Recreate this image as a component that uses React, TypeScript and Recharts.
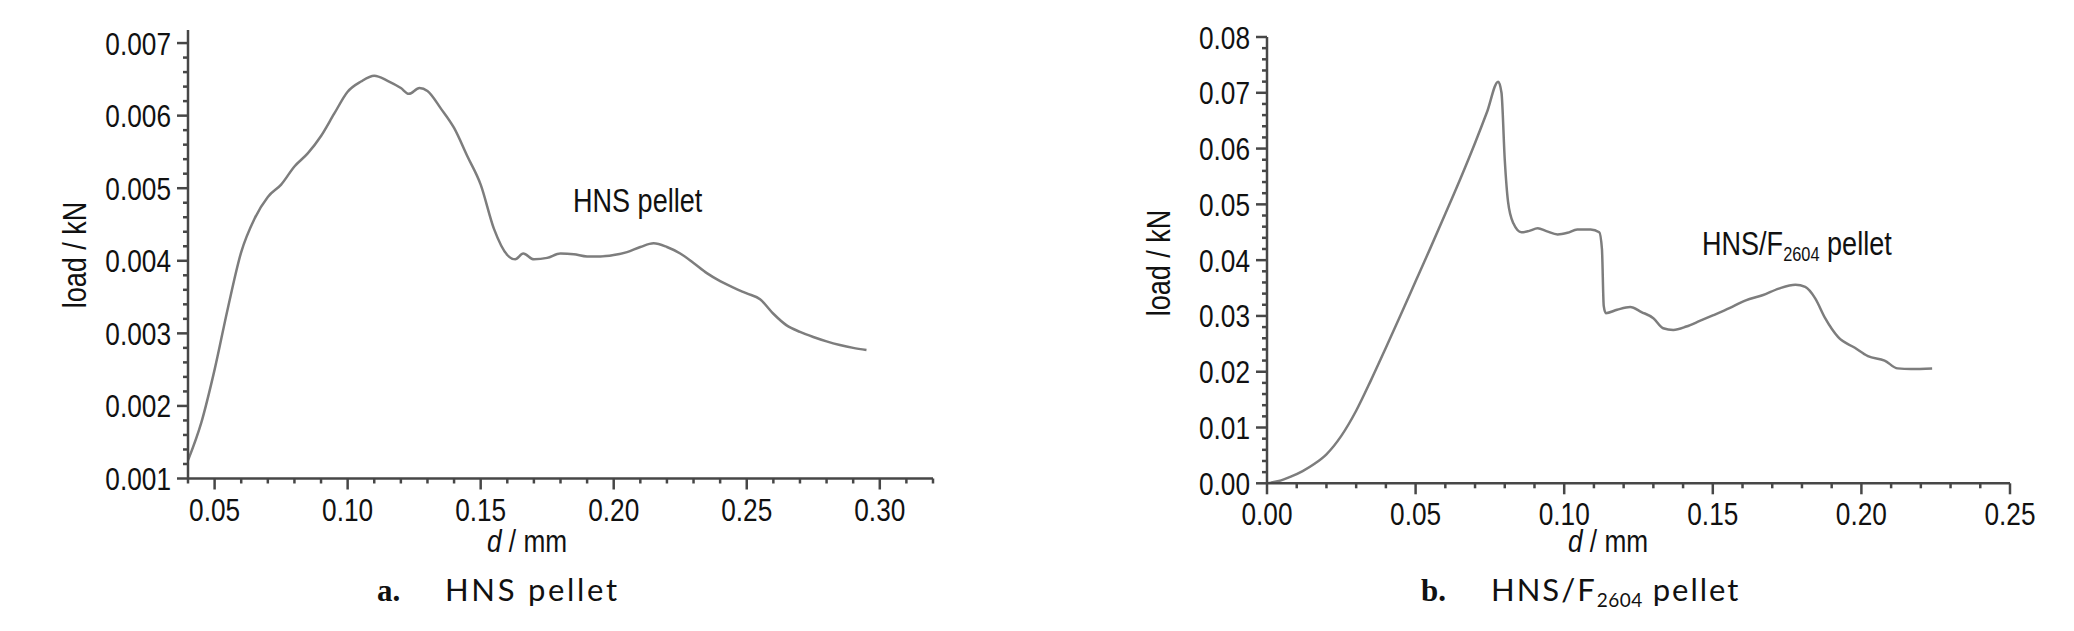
import React from 'react';
import { LineChart, Line, XAxis, YAxis } from 'recharts';

// panel a: HNS pellet, displacement (mm) vs load (kN)
const hnsD = [
  0.040, 0.045, 0.050, 0.055, 0.060, 0.065, 0.070, 0.075, 0.080, 0.085,
  0.090, 0.095, 0.100, 0.105, 0.110, 0.115, 0.120, 0.123, 0.127, 0.130,
  0.135, 0.140, 0.145, 0.150, 0.155, 0.160, 0.163, 0.166, 0.170, 0.175,
  0.180, 0.185, 0.190, 0.195, 0.200, 0.205, 0.210, 0.215, 0.220, 0.225,
  0.230, 0.235, 0.240, 0.245, 0.250, 0.255, 0.260, 0.265, 0.270, 0.275,
  0.280, 0.285, 0.290, 0.295,
];
const hnsLoad = [
  0.00125, 0.00177, 0.0025, 0.00335, 0.00412, 0.00458, 0.00488, 0.00505, 0.0053, 0.00548,
  0.00572, 0.00603, 0.00633, 0.00647, 0.00655, 0.00648, 0.00638, 0.0063, 0.00638, 0.00634,
  0.0061, 0.00583, 0.00544, 0.00505, 0.00444, 0.00408, 0.00402, 0.0041, 0.00402, 0.00404,
  0.0041, 0.00409, 0.00406, 0.00406, 0.00408, 0.00412, 0.00419, 0.00424, 0.00419, 0.0041,
  0.00397, 0.00383, 0.00372, 0.00363, 0.00355, 0.00347, 0.00327, 0.00311, 0.00302, 0.00295,
  0.00289, 0.00284, 0.0028, 0.00277,
];

// panel b: HNS/F2604 pellet
const f2604D = [
  0.000, 0.004, 0.008, 0.012, 0.016, 0.020, 0.025, 0.030, 0.035, 0.040,
  0.045, 0.050, 0.055, 0.060, 0.065, 0.070, 0.074, 0.0778, 0.0789, 0.0800,
  0.0811, 0.0829, 0.0856, 0.0880, 0.0911, 0.0940, 0.0978, 0.1011, 0.1044, 0.1089,
  0.1118, 0.1127, 0.1133, 0.1140, 0.1178, 0.1222, 0.1260, 0.1300, 0.1333, 0.1367,
  0.1411, 0.1456, 0.1500, 0.1556, 0.1611, 0.1667, 0.1722, 0.1778, 0.1811, 0.1844,
  0.1878, 0.1922, 0.1978, 0.2022, 0.2078, 0.2122, 0.2167, 0.2238,
];
const f2604Load = [
  0.0, 0.0004, 0.0012, 0.0022, 0.0035, 0.0052, 0.0085, 0.013, 0.0185, 0.0243,
  0.0302, 0.0362, 0.0422, 0.0483, 0.0545, 0.061, 0.0665, 0.072, 0.07, 0.058,
  0.0505, 0.0466, 0.045, 0.0452, 0.0457, 0.0452, 0.0446, 0.0449, 0.0455, 0.0455,
  0.045, 0.042, 0.0318, 0.0305, 0.0311, 0.0316, 0.0307, 0.0296, 0.0278, 0.0275,
  0.0281, 0.0291, 0.0301, 0.0314, 0.0328, 0.0337, 0.0349, 0.0356, 0.0352, 0.0332,
  0.0296, 0.0262, 0.0243, 0.0228, 0.022, 0.0206, 0.0205, 0.0206,
];

const hnsXTicks = [0.05, 0.10, 0.15, 0.20, 0.25, 0.30];
const hnsYTicks = [0.001, 0.002, 0.003, 0.004, 0.005, 0.006, 0.007];
const f2604XTicks = [0.00, 0.05, 0.10, 0.15, 0.20, 0.25];
const f2604YTicks = [0.00, 0.01, 0.02, 0.03, 0.04, 0.05, 0.06, 0.07, 0.08];

// no Arial Narrow here, so squeeze Liberation Sans sideways instead
const SANS = "'Liberation Sans', Arial, sans-serif";
const SQUEEZE = 0.82;
const AXIS = '#474747';
const CURVE = '#7d7d7d';
const INK = '#111';

const NText = ({ x, y, size = 32, anchor = 'start', rotate = false, children }: any) => (
  <text
    transform={`translate(${x} ${y})${rotate ? ' rotate(-90)' : ''} scale(${SQUEEZE} 1)`}
    textAnchor={anchor}
    fontFamily={SANS}
    fontSize={size}
    fill={INK}
  >
    {children}
  </text>
);

// every major interval split into `parts` minor steps, kept inside the domain
const minorTicks = (majors: number[], parts: number, domain: number[]) => {
  const step = (majors[1] - majors[0]) / parts;
  const out: number[] = [];
  for (let k = Math.ceil(domain[0] / step - 1e-6); k * step <= domain[1] + 1e-9; k++) {
    out.push(+(k * step).toFixed(6));
  }
  return out;
};

const isMajor = (v: number, majors: number[]) =>
  majors.some((m) => Math.abs(m - v) < 1e-7);

const yTick = (majors: number[], digits: number) => (props: any) => {
  const { x, y, payload } = props;
  const major = isMajor(payload.value, majors);
  return (
    <g>
      <line x1={x - (major ? 11 : 5)} x2={x} y1={y} y2={y} stroke={AXIS} strokeWidth={2.5} />
      {major && (
        <NText x={x - 17} y={y + 11.5} anchor="end">
          {payload.value.toFixed(digits)}
        </NText>
      )}
    </g>
  );
};

const xTick = (majors: number[]) => (props: any) => {
  const { x, y, payload } = props;
  const major = isMajor(payload.value, majors);
  return (
    <g>
      <line x1={x} x2={x} y1={y} y2={y + (major ? 11 : 5)} stroke={AXIS} strokeWidth={2.5} />
      {major && (
        <NText x={x} y={y + 42} anchor="middle">
          {payload.value.toFixed(2)}
        </NText>
      )}
    </g>
  );
};

type PanelProps = {
  d: number[];
  load: number[];
  xDomain: number[];
  yDomain: number[];
  xMajor: number[];
  yMajor: number[];
  yDigits: number;
  left: number;
  yAxisWidth: number;
  top: number;
  right: number;
  bottom: number;
};

const Panel = (p: PanelProps) => {
  const data = p.d.map((d, i) => ({ d, load: p.load[i] }));
  return (
    <div style={{ position: 'absolute', left: p.left, top: 0 }}>
      <LineChart
        width={1037}
        height={631}
        data={data}
        margin={{ top: p.top, right: p.right, bottom: p.bottom, left: 0 }}
      >
        <XAxis
          dataKey="d"
          type="number"
          domain={p.xDomain}
          allowDataOverflow
          ticks={minorTicks(p.xMajor, 5, p.xDomain)}
          interval={0}
          tickSize={0}
          tickMargin={0}
          tickLine={false}
          tick={xTick(p.xMajor)}
          axisLine={{ stroke: AXIS, strokeWidth: 2.5 }}
          height={60}
        />
        <XAxis
          xAxisId="frame"
          orientation="top"
          type="number"
          domain={p.xDomain}
          tick={false}
          tickLine={false}
          axisLine={{ stroke: AXIS, strokeWidth: 3 }}
          height={0}
        />
        <YAxis
          type="number"
          domain={p.yDomain}
          allowDataOverflow
          ticks={minorTicks(p.yMajor, 5, p.yDomain)}
          interval={0}
          tickSize={0}
          tickMargin={0}
          tickLine={false}
          tick={yTick(p.yMajor, p.yDigits)}
          axisLine={{ stroke: AXIS, strokeWidth: 2.5 }}
          width={p.yAxisWidth}
        />
        <YAxis
          yAxisId="frame"
          orientation="right"
          type="number"
          domain={p.yDomain}
          tick={false}
          tickLine={false}
          axisLine={{ stroke: AXIS, strokeWidth: 2.5 }}
          width={0}
        />
        <Line
          dataKey="load"
          type="monotone"
          stroke={CURVE}
          strokeWidth={2.5}
          dot={false}
          isAnimationActive={false}
        />
      </LineChart>
    </div>
  );
};

const CAPTION = "Lato, 'Open Sans', sans-serif";

export default function App() {
  return (
    <div style={{ position: 'absolute', left: 0, top: 0, width: 2074, height: 631, background: '#fff' }}>
      <Panel
        d={hnsD}
        load={hnsLoad}
        xDomain={[0.04, 0.32]}
        yDomain={[0.001, 0.00718]}
        xMajor={hnsXTicks}
        yMajor={hnsYTicks}
        yDigits={3}
        left={0}
        yAxisWidth={188}
        top={30}
        right={104}
        bottom={92.5}
      />
      <Panel
        d={f2604D}
        load={f2604Load}
        xDomain={[0, 0.25]}
        yDomain={[0, 0.08]}
        xMajor={f2604XTicks}
        yMajor={f2604YTicks}
        yDigits={2}
        left={1037}
        yAxisWidth={230}
        top={37}
        right={64}
        bottom={87.7}
      />
      <svg width={2074} height={631} style={{ position: 'absolute', left: 0, top: 0, pointerEvents: 'none' }}>
        <NText x={86} y={255} anchor="middle" size={33} rotate>load / kN</NText>
        <NText x={1170} y={263} anchor="middle" size={33} rotate>load / kN</NText>
        <NText x={527} y={552} anchor="middle" size={32}>
          <tspan fontStyle="italic">d</tspan>
          <tspan> / mm</tspan>
        </NText>
        <NText x={1608} y={552} anchor="middle" size={32}>
          <tspan fontStyle="italic">d</tspan>
          <tspan> / mm</tspan>
        </NText>
        <NText x={573} y={212} size={33}>HNS pellet</NText>
        <NText x={1702} y={255} size={33}>
          HNS/F<tspan fontSize={20} dy={6}>2604</tspan>
          <tspan dy={-6}> pellet</tspan>
        </NText>
        <g fill={INK}>
          <text x={377} y={601} fontFamily="'Liberation Serif', serif" fontWeight="bold" fontSize={31}>a.</text>
          <text x={445} y={601} fontFamily={CAPTION} fontSize={31} letterSpacing={2.7}>HNS pellet</text>
          <text x={1421} y={601} fontFamily="'Liberation Serif', serif" fontWeight="bold" fontSize={31}>b.</text>
          <text x={1491} y={601} fontFamily={CAPTION} fontSize={31} letterSpacing={2}>
            HNS/F<tspan fontSize={19} dy={6} letterSpacing={0.5}>2604</tspan>
            <tspan dy={-6}> pellet</tspan>
          </text>
        </g>
      </svg>
    </div>
  );
}
